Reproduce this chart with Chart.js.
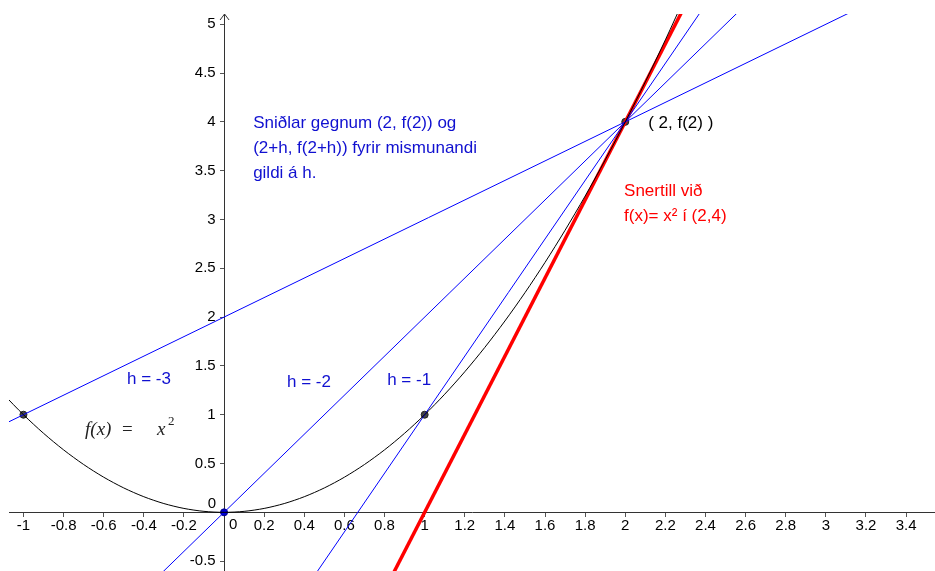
<!DOCTYPE html>
<html>
<head>
<meta charset="utf-8">
<script src="https://cdn.jsdelivr.net/npm/chart.js@4"></script>
<style>
  html, body { margin: 0; padding: 0; background: #fff; }
  #wrap { width: 935px; height: 571px; }
</style>
</head>
<body>
<div id="wrap"><canvas id="graph"></canvas></div>
<script>
// f(x) = x^2, every 0.1
const curveX = [-1.1, -1.0, -0.9, -0.8, -0.7, -0.6, -0.5, -0.4, -0.3, -0.2, -0.1, 0,
  0.1, 0.2, 0.3, 0.4, 0.5, 0.6, 0.7, 0.8, 0.9, 1.0, 1.1, 1.2, 1.3, 1.4, 1.5, 1.6,
  1.7, 1.8, 1.9, 2.0, 2.1, 2.2, 2.3];
const curveY = [1.21, 1, 0.81, 0.64, 0.49, 0.36, 0.25, 0.16, 0.09, 0.04, 0.01, 0,
  0.01, 0.04, 0.09, 0.16, 0.25, 0.36, 0.49, 0.64, 0.81, 1, 1.21, 1.44, 1.69, 1.96, 2.25, 2.56,
  2.89, 3.24, 3.61, 4, 4.41, 4.84, 5.29];

// secants through (2, f(2)) and (2+h, f(2+h)), end points beyond the view
const h3X = [-1.2, 3.2], h3Y = [0.8, 5.2];
const h2X = [-0.4, 2.6], h2Y = [-0.8, 5.2];
const h1X = [0.4, 2.4], h1Y = [-0.8, 5.2];
// tangent at (2,4)
const tanX = [0.8, 2.3], tanY = [-0.8, 5.2];

// marked points
const pointX = [-1, 0, 1, 2];
const pointY = [1, 0, 1, 4];

// axis ticks
const xTickValues = [-1, -0.8, -0.6, -0.4, -0.2, 0, 0.2, 0.4, 0.6, 0.8, 1, 1.2, 1.4, 1.6,
  1.8, 2, 2.2, 2.4, 2.6, 2.8, 3, 3.2, 3.4];
const yTickValues = [-0.5, 0, 0.5, 1, 1.5, 2, 2.5, 3, 3.5, 4, 4.5, 5];

const blue = '#0000ff';
const textBlue = '#1010d0';
const red = '#ff0000';
const sans = '"Liberation Sans", Arial, sans-serif';

const pts = (xs, ys) => xs.map((x, i) => ({ x: x, y: ys[i] }));
const tickText = v => (v === 0 ? '' : String(+v.toFixed(1)));

// texts, placed in graph coordinates (left edge, baseline)
const notes = [
  { t: 'Sniðlar gegnum (2, f(2)) og', x: 0.145, y: 3.937, c: textBlue },
  { t: '(2+h, f(2+h)) fyrir mismunandi', x: 0.145, y: 3.680, c: textBlue },
  { t: 'gildi á h.', x: 0.145, y: 3.424, c: textBlue },
  { t: '( 2, f(2) )', x: 2.114, y: 3.937, c: '#000' },
  { t: 'Snertill við', x: 1.994, y: 3.241, c: red },
  { t: 'f(x)= x² í (2,4)', x: 1.994, y: 2.985, c: red },
  { t: 'h = -3', x: -0.484, y: 1.316, c: textBlue },
  { t: 'h = -2', x: 0.314, y: 1.286, c: textBlue },
  { t: 'h = -1', x: 0.813, y: 1.306, c: textBlue }
];

const extras = {
  id: 'extras',
  afterDraw(chart) {
    const { ctx, scales: { x, y } } = chart;
    const x0 = x.getPixelForValue(0), y0 = y.getPixelForValue(0);
    ctx.save();
    // arrow at the top of the y axis
    ctx.strokeStyle = '#333';
    ctx.lineWidth = 1;
    ctx.beginPath();
    ctx.moveTo(x0 - 4, chart.chartArea.top + 6);
    ctx.lineTo(x0 + 0.5, chart.chartArea.top);
    ctx.lineTo(x0 + 5, chart.chartArea.top + 6);
    ctx.stroke();

    // the two zero labels sit off the axes
    ctx.fillStyle = '#000';
    ctx.font = '15px ' + sans;
    ctx.textBaseline = 'middle';
    ctx.textAlign = 'left';
    ctx.fillText('0', x0 + 5, y0 + 13);
    ctx.textAlign = 'right';
    ctx.fillText('0', x0 - 8, y0 - 8);

    ctx.textAlign = 'left';
    ctx.textBaseline = 'alphabetic';
    ctx.font = '17px ' + sans;
    notes.forEach(n => {
      ctx.fillStyle = n.c;
      ctx.fillText(n.t, x.getPixelForValue(n.x), y.getPixelForValue(n.y));
    });

    // f(x) = x^2
    const lx = x.getPixelForValue(-0.693), ly = y.getPixelForValue(0.792);
    ctx.fillStyle = '#222';
    ctx.font = 'italic 19px "Liberation Serif", serif';
    ctx.fillText('f(x)', lx, ly);
    ctx.fillText('x', lx + 72, ly);
    ctx.font = '19px "Liberation Serif", serif';
    ctx.fillText('=', lx + 37, ly);
    ctx.font = '13px "Liberation Serif", serif';
    ctx.fillText('2', lx + 83, ly - 10);
    ctx.restore();
  }
};

new Chart(document.getElementById('graph'), {
  type: 'scatter',
  data: {
    datasets: [
      { data: pts(curveX, curveY), showLine: true, borderColor: '#000', borderWidth: 1, pointRadius: 0, tension: 0.3 },
      { data: pts(h3X, h3Y), showLine: true, borderColor: blue, borderWidth: 1, pointRadius: 0 },
      { data: pts(h2X, h2Y), showLine: true, borderColor: blue, borderWidth: 1, pointRadius: 0 },
      { data: pts(h1X, h1Y), showLine: true, borderColor: blue, borderWidth: 1, pointRadius: 0 },
      { data: pts(tanX, tanY), showLine: true, borderColor: red, borderWidth: 3.5, pointRadius: 0 },
      {
        data: pts(pointX, pointY), showLine: false, pointRadius: 3.5,
        pointBackgroundColor: ['#444', '#0000cc', '#444', '#444'],
        pointBorderColor: ['#222', '#00008a', '#222', '#222'], pointBorderWidth: 1
      }
    ]
  },
  options: {
    responsive: true,
    maintainAspectRatio: false,
    animation: false,
    layout: { autoPadding: false, padding: { left: 9, top: 14, right: 0, bottom: 0 } },
    plugins: { legend: { display: false }, tooltip: { enabled: false } },
    scales: {
      x: {
        type: 'linear',
        min: -1.072, max: 3.544,
        position: { y: 0 },
        afterBuildTicks: s => { s.ticks = xTickValues.map(v => ({ value: v })); },
        afterFit: s => { s.paddingLeft = 0; s.paddingRight = 0; },
        grid: { drawOnChartArea: false, drawTicks: true, tickLength: 4, tickColor: '#555' },
        border: { display: true, color: '#333', width: 1 },
        ticks: { autoSkip: false, maxRotation: 0, padding: 1, color: '#000', font: { family: sans, size: 15 }, callback: tickText }
      },
      y: {
        type: 'linear',
        min: -0.601, max: 5.105,
        position: { x: 0 },
        afterBuildTicks: s => { s.ticks = yTickValues.map(v => ({ value: v })); },
        afterFit: s => { s.paddingTop = 0; s.paddingBottom = 0; },
        grid: { drawOnChartArea: false, drawTicks: true, tickLength: 4, tickColor: '#555' },
        border: { display: true, color: '#333', width: 1 },
        // labels on a crossing axis are right-aligned at the axis itself, so pad with spaces
        ticks: { autoSkip: false, color: '#000', font: { family: sans, size: 15 }, callback: v => (v === 0 ? '' : tickText(v) + '  ') }
      }
    }
  },
  plugins: [extras]
});
</script>
</body>
</html>
